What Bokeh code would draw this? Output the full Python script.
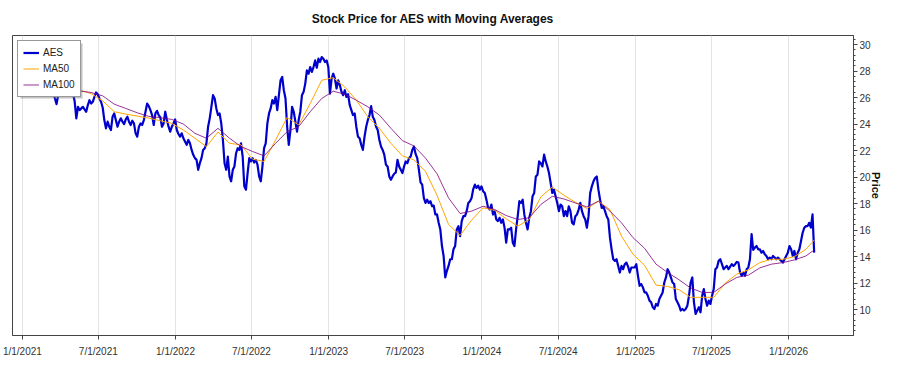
import pandas as pd
from bokeh.plotting import figure
from bokeh.models import (FixedTicker, SingleIntervalTicker, Range1d, Legend, LegendItem,
                          BoxAnnotation)
from bokeh.embed import file_html
from bokeh.resources import INLINE

# ---- AES closing price (regular spacing, Jan 2021 -> Mar 2026) ----
price_2021a = [26.8, 27.0, 27.3, 27.6, 27.4, 27.9, 28.2, 28.0, 28.4, 28.1,
               27.7, 27.9, 27.5, 27.2, 27.4, 27.0, 26.8, 26.6, 26.43, 25.93,
               25.5, 26.18, 26.6, 26.8, 26.7, 26.9, 26.6, 26.8, 26.6, 26.5,
               26.3, 25.7, 24.43, 25.3, 25.05, 25.18, 25.3, 25.1, 24.93, 25.43,
               25.8, 25.55, 25.68, 26.05, 26.38, 26.25, 25.93, 25.68, 25.25, 24.3,
               23.68, 24.18, 23.8, 23.55, 24.55]
price_2021b = [24.8, 24.3, 23.8, 24.18, 24.43, 24.18, 24.0, 24.35, 24.55, 24.18,
               23.93, 24.25, 24.05, 23.3, 23.05, 23.8, 24.05, 23.93, 24.3, 24.93,
               25.55, 25.35, 25.05, 24.68, 23.93, 24.8, 25.0, 24.68, 24.5, 23.8,
               24.05, 24.93, 24.3, 23.8, 23.43, 23.8, 24.05, 24.35, 23.55, 23.25,
               23.05, 23.3, 22.93, 22.68, 22.43, 22.8, 22.55, 22.05, 21.68, 21.43,
               21.3, 20.55, 21.05, 21.43, 22.05, 22.18, 22.55, 23.8, 24.43, 25.3,
               26.18, 25.93, 25.18]
price_2022 = [24.68, 24.8, 24.05, 22.8, 21.05, 20.55, 21.55, 20.05, 19.68, 20.55,
              20.8, 21.8, 22.18, 22.05, 22.55, 21.55, 19.3, 19.05, 20.3, 21.43,
              21.18, 21.43, 21.1, 21.3, 20.93, 20.05, 19.68, 20.8, 22.18, 22.55,
              24.05, 24.8, 25.18, 25.8, 25.55, 26.05, 25.05, 26.18, 27.3, 27.55,
              26.55, 25.93, 23.8, 22.43, 23.55, 25.3, 24.93, 24.18, 23.43, 24.3,
              24.93, 26.18, 26.43, 27.05, 28.05, 27.8, 28.3, 27.93, 28.3, 28.8,
              28.25, 28.93, 28.68]
price_2023 = [29.05, 28.93, 28.68, 28.8, 28.3, 26.3, 27.43, 27.8, 27.43, 26.68,
              27.3, 26.93, 26.43, 26.18, 26.55, 26.05, 26.25, 25.43, 25.05, 24.68,
              24.8, 23.8, 23.05, 22.93, 22.43, 22.05, 23.05, 23.8, 24.3, 24.68,
              25.35, 24.55, 24.3, 23.8, 23.55, 22.8, 22.3, 22.05, 21.68, 20.93,
              20.8, 20.05, 19.8, 20.05, 20.25, 20.35, 21.3, 20.8, 20.55, 20.3,
              20.8, 21.18, 21.05, 21.43, 21.55, 22.05, 22.3, 21.75, 21.43, 20.55,
              19.6, 19.43, 18.43]
price_2024a = [18.05, 18.3, 18.05, 18.18, 17.8, 17.85, 17.18, 17.18, 16.55, 16.05,
               14.8, 14.05, 12.43, 12.93, 13.3, 13.8, 13.8, 14.55, 14.8, 16.05,
               16.3, 15.55, 16.68, 17.05, 17.05, 17.43, 18.05, 18.18, 18.43, 19.1,
               19.43, 19.18, 19.35, 19.05, 19.3, 18.93, 18.8, 18.3, 17.68, 17.55,
               17.93, 17.18, 17.43, 16.8, 16.68, 16.93, 16.55, 16.8, 16.18, 15.05,
               16.05, 16.05, 16.18, 15.05, 14.8, 16.05, 17.05, 18.18, 18.05, 18.3,
               17.18, 16.55, 16.05]
price_2024b = [16.93, 17.43, 18.55, 18.8, 20.05, 20.18, 21.18, 21.05, 20.8, 21.7,
               21.18, 20.8, 20.3, 19.55, 18.8, 19.05, 18.55, 18.05, 17.43, 17.93,
               17.8, 17.05, 17.43, 17.05, 17.8, 17.43, 16.55, 16.43, 17.05, 17.18,
               17.55, 18.05, 17.43, 17.05, 16.8, 16.18, 17.05, 18.8, 19.3, 19.68,
               19.93, 20.05, 19.05, 18.3, 17.68, 17.8, 17.43, 17.05, 16.8, 15.43,
               14.55, 13.8, 13.68, 13.8, 13.3, 12.8, 13.3, 13.05, 13.43, 13.55,
               13.25, 12.8, 13.18]
price_2025 = [13.18, 13.18, 13.43, 12.55, 11.8, 11.93, 11.68, 11.3, 11.3, 11.05,
              10.68, 10.55, 10.18, 10.05, 10.43, 10.3, 10.8, 11.05, 11.3, 12.05,
              12.43, 13.05, 12.8, 12.43, 12.05, 11.93, 10.8, 10.55, 10.3, 9.93,
              10.05, 9.93, 10.05, 10.3, 11.05, 12.05, 12.43, 10.55, 9.68, 9.93,
              10.18, 9.8, 11.05, 11.55, 10.8, 10.3, 10.68, 10.43, 11.05, 11.55,
              13.05, 13.18, 13.68, 13.8, 13.43, 13.05, 13.18, 13.3, 13.05, 13.25,
              13.43, 13.3, 13.43]
price_2026 = [13.6, 13.55, 12.8, 12.55, 12.8, 12.55, 13.05, 13.18, 13.8, 15.7,
              14.5, 14.68, 14.8, 14.55, 14.55, 14.3, 14.43, 14.18, 14.05, 13.8,
              13.93, 13.8, 14.05, 13.93, 13.8, 13.93, 13.8, 13.68, 13.55, 13.8,
              14.05, 14.3, 14.8, 14.55, 14.05, 14.43, 13.8, 14.3, 14.55, 15.18,
              15.8, 16.18, 16.3, 16.3, 16.55, 16.18, 17.18, 14.3]

# ---- moving averages (every 7th price sample + last) ----
ma50_values = [26.7, 26.55, 26.3, 25.75,
               24.93, 24.75, 24.6, 24.45, 24.25, 24.05, 23.55, 22.93, 22.3,
               23.4, 22.55, 22.43, 21.35, 21.18, 22.8, 24.5, 23.93, 25.55,
               27.3, 27.5, 26.8, 25.8, 24.55, 23.68, 22.55, 21.6, 21.3,
               20.43, 18.63, 16.43, 15.6, 16.75, 17.68, 17.5, 16.85, 16.3,
               16.8, 18.5, 19.25, 18.63, 18.1, 17.63, 18.18, 17.55, 15.55,
               14.18, 13.35, 11.85, 11.75, 11.5, 10.93, 10.93, 10.93, 12.0,
               12.68, 13.0, 13.55, 13.8, 13.8, 14.0, 14.55, 15.25]
ma100_values = [26.6, 26.5, 26.38, 26.13,
                25.5, 25.18, 24.85, 24.58, 24.48, 24.35, 24.0, 23.3, 22.93,
                23.68, 22.93, 22.3, 21.93, 21.6, 22.55, 23.43, 23.8, 24.93,
                25.93, 26.48, 26.25, 25.8, 25.3, 24.68, 23.68, 22.75, 22.35,
                21.43, 20.25, 18.43, 17.25, 17.43, 17.8, 17.55, 17.1, 16.8,
                16.93, 17.93, 18.55, 18.35, 18.05, 17.75, 18.18, 17.43, 16.55,
                15.43, 14.63, 13.43, 12.8, 12.25, 11.63, 11.3, 11.3, 11.93,
                12.43, 12.6, 13.15, 13.43, 13.55, 13.75, 14.05, 14.5]

tick_dates = ["2021-01-01", "2021-07-01", "2022-01-01", "2022-07-01", "2023-01-01",
              "2023-07-01", "2024-01-01", "2024-07-01", "2025-01-01", "2025-07-01",
              "2026-01-01"]
tick_labels = ["1/1/2021", "7/1/2021", "1/1/2022", "7/1/2022", "1/1/2023",
               "7/1/2023", "1/1/2024", "7/1/2024", "1/1/2025", "7/1/2025",
               "1/1/2026"]

aes_price = (price_2021a + price_2021b + price_2022 + price_2023 +
             price_2024a + price_2024b + price_2025 + price_2026)
aes_dates = pd.date_range("2021-01-04", "2026-03-03", periods=len(aes_price))
ma_dates = list(aes_dates[27::7]) + [aes_dates[-1]]

FONT = "Liberation Sans"
FH = 300

p = figure(x_axis_type="datetime", y_axis_location="right",
           x_range=Range1d(pd.Timestamp("2020-12-08 12:00"), pd.Timestamp("2026-06-04 17:00")),
           y_range=Range1d(8.05, 30.68),
           width=884, frame_height=FH,
           min_border_left=12, min_border_right=0, min_border_top=0, min_border_bottom=0,
           output_backend="svg", toolbar_location=None,
           title="Stock Price for AES with Moving Averages")

p.background_fill_color = "white"
p.border_fill_color = "white"
p.outline_line_color = "#444444"
p.outline_line_width = 1

p.title.align = "center"
p.title.text_font = FONT
p.title.text_font_size = "12px"
p.title.text_font_style = "bold"
p.title.text_color = "#111111"
p.title.standoff = 19

tick_ms = [int(pd.Timestamp(d).value // 10**6) for d in tick_dates]
xaxis = p.xaxis[0]
xaxis.ticker = FixedTicker(ticks=tick_ms)
xaxis.major_label_overrides = {t: lab for t, lab in zip(tick_ms, tick_labels)}
xaxis.major_tick_in = 0
xaxis.major_tick_out = 4
xaxis.minor_tick_line_color = None
xaxis.major_label_standoff = 6
xaxis.major_label_text_font = FONT
xaxis.major_label_text_font_size = "10px"
xaxis.major_label_text_color = "#333333"
xaxis.axis_line_color = "#444444"
xaxis.major_tick_line_color = "#444444"

yaxis = p.yaxis[0]
yaxis.ticker = SingleIntervalTicker(interval=2, num_minor_ticks=5)
yaxis.major_tick_in = 0
yaxis.major_tick_out = 4
yaxis.minor_tick_in = 0
yaxis.minor_tick_out = 2
yaxis.major_label_standoff = 2
yaxis.major_label_text_font = FONT
yaxis.major_label_text_font_size = "10px"
yaxis.major_label_text_color = "#333333"
yaxis.axis_label = "Price"
yaxis.axis_label_text_font = FONT
yaxis.axis_label_text_font_size = "11px"
yaxis.axis_label_text_font_style = "bold"
yaxis.axis_label_text_color = "#111111"
yaxis.axis_label_standoff = -4
yaxis.axis_line_color = "#444444"
yaxis.major_tick_line_color = "#444444"
yaxis.minor_tick_line_color = "#444444"

p.xgrid.grid_line_color = "#e3e3e3"
p.xgrid.grid_line_width = 1
p.ygrid.grid_line_color = None

r_aes = p.line(aes_dates, aes_price, line_color="#0000CD", line_width=2.2, line_join="round")
r_50 = p.line(ma_dates, ma50_values, line_color="orange", line_width=1)
r_100 = p.line(ma_dates, ma100_values, line_color="purple", line_width=1, line_alpha=0.8)

# soft drop shadow behind the legend box
shadow = BoxAnnotation(left=8, right=70, top=FH - 8, bottom=FH - 63,
                       left_units="screen", right_units="screen",
                       top_units="screen", bottom_units="screen",
                       fill_color="#777777", fill_alpha=0.45, line_color=None)
p.add_layout(shadow)

legend = Legend(items=[LegendItem(label="AES", renderers=[r_aes]),
                       LegendItem(label="MA50", renderers=[r_50]),
                       LegendItem(label="MA100", renderers=[r_100])],
                location="top_left", margin=5, padding=5, spacing=3,
                glyph_width=16, glyph_height=13, label_standoff=4,
                label_text_font=FONT, label_text_font_size="10px",
                label_text_color="#222222",
                border_line_color="#333333", border_line_width=1,
                background_fill_color="white", background_fill_alpha=1.0)
p.add_layout(legend)

open("out.html", "w").write(file_html(p, INLINE))
